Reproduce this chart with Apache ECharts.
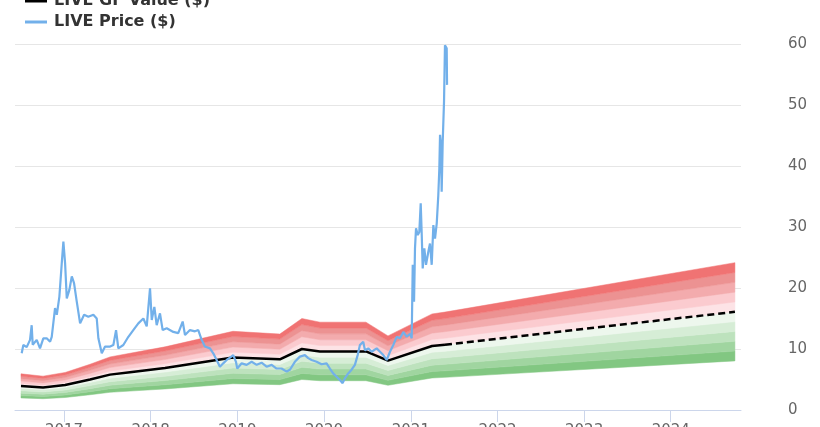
<!DOCTYPE html>
<html>
<head>
<meta charset="utf-8">
<script src="https://cdn.jsdelivr.net/npm/echarts@6/dist/echarts.min.js"></script>
<style>
html,body{margin:0;padding:0;background:#fff;}
#chart{width:820px;height:427px;}
</style>
</head>
<body>
<div id="chart"></div>
<script>
// ---- data (dates given as decimal years) ----
const yearTicks = [2017, 2018, 2019, 2020, 2021, 2022, 2023, 2024];

const gfYears  = [2016.504, 2016.758, 2017.012, 2017.300, 2017.530, 2017.761, 2018.165, 2018.949, 2019.491, 2019.745, 2019.953, 2020.483, 2020.737, 2021.245, 2021.394, 2024.739];
const gfValues = [3.95, 3.7, 4.1, 5.0, 5.8, 6.2, 6.9, 8.6, 8.3, 10.0, 9.6, 9.6, 8.1, 10.5, 10.7, 16.1];
const projectionStart = 2021.394;

const bandFactors = [0.5, 0.6, 0.7, 0.8, 0.9, 1.0, 1.1, 1.2, 1.3, 1.4, 1.5];
const bandColors = ['#82c782', '#a0d5a0', '#bde2bd', '#d6edd6', '#edf7ed',
                    '#fde3e6', '#fbcbcf', '#f3abad', '#ec9292', '#f07373'];

const priceYears = [
 2016.512, 2016.531, 2016.570, 2016.608, 2016.627, 2016.639, 2016.685, 2016.723, 2016.761, 2016.800,
 2016.839, 2016.858, 2016.896, 2016.916, 2016.946, 2016.973, 2016.992, 2017.012, 2017.031, 2017.061,
 2017.089, 2017.115, 2017.146, 2017.185, 2017.231, 2017.280, 2017.338, 2017.377, 2017.396, 2017.435,
 2017.473, 2017.531, 2017.569, 2017.600, 2017.626, 2017.684, 2017.742, 2017.799, 2017.857, 2017.915,
 2017.954, 2017.992, 2018.012, 2018.042, 2018.069, 2018.107, 2018.138, 2018.185, 2018.261, 2018.318,
 2018.369, 2018.396, 2018.453, 2018.511, 2018.549, 2018.588, 2018.607, 2018.626, 2018.684, 2018.722,
 2018.761, 2018.799, 2018.837, 2018.877, 2018.915, 2018.953, 2018.984, 2018.999, 2019.050, 2019.107,
 2019.165, 2019.223, 2019.280, 2019.338, 2019.396, 2019.453, 2019.511, 2019.569, 2019.607, 2019.664,
 2019.722, 2019.780, 2019.818, 2019.857, 2019.915, 2019.972, 2020.030, 2020.068, 2020.106, 2020.145,
 2020.183, 2020.215, 2020.241, 2020.279, 2020.318, 2020.356, 2020.388, 2020.414, 2020.452, 2020.472,
 2020.510, 2020.549, 2020.607, 2020.645, 2020.683, 2020.722, 2020.760, 2020.798, 2020.837, 2020.875,
 2020.914, 2020.953, 2020.991, 2021.010, 2021.022, 2021.037, 2021.048, 2021.060, 2021.080, 2021.098,
 2021.114, 2021.126, 2021.137, 2021.156, 2021.175, 2021.202, 2021.221, 2021.241, 2021.260, 2021.279,
 2021.299, 2021.317, 2021.329, 2021.337, 2021.348, 2021.356, 2021.368, 2021.383, 2021.394, 2021.414,
 2021.418
];
const priceValues = [
 9.3, 10.65, 10.3, 11.5, 13.9, 10.7, 11.5, 10.1, 11.75, 11.75,
 11.2, 12.0, 16.7, 15.6, 18.6, 24.0, 27.6, 24.0, 18.3, 19.7,
 21.9, 20.8, 17.8, 14.2, 15.6, 15.3, 15.6, 15.0, 11.75, 9.3,
 10.4, 10.4, 10.65, 13.1, 10.1, 10.65, 12.0, 13.1, 14.2, 15.0,
 13.7, 19.95, 14.75, 16.9, 13.9, 15.85, 13.1, 13.4, 12.8, 12.6,
 14.5, 12.3, 13.1, 12.9, 13.1, 11.5, 11.2, 10.4, 10.1, 9.3,
 8.2, 7.1, 7.65, 8.2, 8.6, 9.0, 7.9, 6.8, 7.65, 7.4,
 7.9, 7.4, 7.75, 7.1, 7.4, 6.8, 6.8, 6.3, 6.6, 7.9,
 8.75, 9.0, 8.5, 8.2, 7.9, 7.5, 7.65, 6.8, 6.0, 5.46,
 4.9, 4.4, 5.2, 6.0, 6.6, 7.4, 9.0, 10.65, 11.2, 9.8,
 10.1, 9.55, 10.1, 9.55, 9.0, 8.2, 9.55, 10.65, 12.0, 11.75,
 12.8, 12.0, 12.5, 11.75, 23.8, 17.75, 26.5, 29.8, 28.7, 29.2,
 33.9, 28.7, 23.2, 26.5, 23.8, 25.95, 27.3, 23.8, 30.3, 28.1,
 30.6, 35.2, 39.6, 45.1, 43.4, 35.8, 44.0, 50.5, 59.8, 59.3,
 53.3
];

// ---- helpers ----
function yearToTime(y) {
  const yr = Math.floor(y);
  const start = Date.UTC(yr, 0, 1);
  const end = Date.UTC(yr + 1, 0, 1);
  return start + (y - yr) * (end - start);
}
const pair = (xs, ys) => xs.map((x, i) => [yearToTime(x), ys[i]]);
const gfSolid = pair(gfYears, gfValues).filter((p, i) => gfYears[i] <= projectionStart);
const gfProj  = pair(gfYears, gfValues).filter((p, i) => gfYears[i] >= projectionStart);
const tickTimes = yearTicks.map(yearToTime);
const gfTimes = gfYears.map(yearToTime);

// valuation bands: polygon between GF*lo and GF*hi, placed with the axes' scales
function renderBand(params, api) {
  const b = api.value(2);
  const lo = bandFactors[b], hi = bandFactors[b + 1];
  const pts = [];
  for (let i = 0; i < gfTimes.length; i++) pts.push(api.coord([gfTimes[i], gfValues[i] * hi]));
  for (let i = gfTimes.length - 1; i >= 0; i--) pts.push(api.coord([gfTimes[i], gfValues[i] * lo]));
  return { type: 'polygon', shape: { points: pts },
           style: { fill: bandColors[b], stroke: bandColors[b], lineWidth: 0.5 } };
}

const chart = echarts.init(document.getElementById('chart'), null, { renderer: 'canvas' });
chart.setOption({
  animation: false,
  backgroundColor: '#ffffff',
  textStyle: { fontFamily: 'DejaVu Sans' },
  grid: { left: 15, right: 79, top: 44, bottom: 17, outerBoundsMode: 'none', containLabel: false },
  legend: {
    orient: 'vertical', left: 25, top: -7, padding: 0,
    itemGap: 5, itemWidth: 22, itemHeight: 3, icon: 'rect',
    textStyle: { fontSize: 16, fontWeight: 'bold', color: '#333', lineHeight: 16,
                 fontFamily: 'DejaVu Sans', padding: [0, 0, 0, 2] },
    data: ['LIVE GF Value ($)', 'LIVE Price ($)']
  },
  xAxis: {
    type: 'value', min: yearToTime(2016.435), max: yearToTime(2024.809),
    splitLine: { show: false },
    axisLine: { show: true, lineStyle: { color: '#ccd6eb', width: 1 } },
    axisTick: { show: true, length: 12, customValues: tickTimes, lineStyle: { color: '#ccd6eb' } },
    axisLabel: { customValues: tickTimes, margin: 14, fontSize: 15, color: '#666',
                 formatter: v => String(new Date(v + 86400000).getUTCFullYear()) }
  },
  yAxis: {
    type: 'value', position: 'right', min: 0, max: 60, interval: 10,
    axisLine: { show: false }, axisTick: { show: false },
    splitLine: { lineStyle: { color: '#e6e6e6', width: 1 } },
    axisLabel: { margin: 47, fontSize: 15, color: '#666', align: 'left' }
  },
  series: [
    {
      name: 'bands', type: 'custom', silent: true, z: 1,
      renderItem: renderBand,
      data: bandColors.map((c, b) => [gfTimes[0], gfValues[0], b])
    },
    {
      name: 'LIVE GF Value ($)', type: 'line', symbol: 'none', z: 5,
      color: '#000', lineStyle: { color: '#000', width: 2.5 },
      data: gfSolid
    },
    {
      name: 'LIVE GF Value projection', type: 'line', symbol: 'none', z: 5,
      lineStyle: { color: '#000', width: 2.5, type: [7, 4] },
      data: gfProj
    },
    {
      name: 'LIVE Price ($)', type: 'line', symbol: 'none', z: 6,
      color: '#72b0ea', lineStyle: { color: '#72b0ea', width: 2.2 },
      data: pair(priceYears, priceValues)
    }
  ]
});
</script>
</body>
</html>
